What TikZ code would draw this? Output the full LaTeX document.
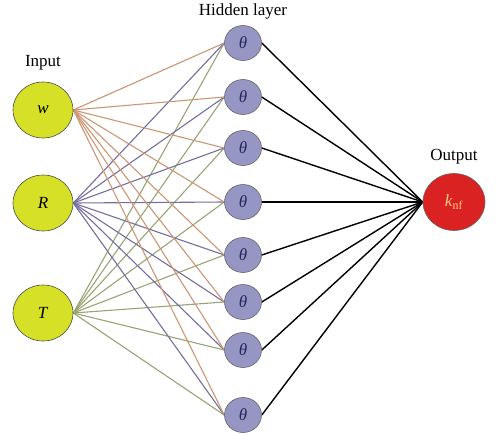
\documentclass[tikz,border=0pt]{standalone}
\usepackage{fontspec}
\setmainfont{Liberation Serif}
\usepackage{tikz}
\usetikzlibrary{shapes.geometric,backgrounds}
\definecolor{inyel}{RGB}{214,224,38}
\definecolor{hidfill}{RGB}{150,150,196}
\definecolor{outred}{RGB}{218,34,34}
\definecolor{outtxt}{RGB}{250,205,130}
\definecolor{thetac}{RGB}{40,40,90}
\definecolor{wline}{RGB}{205,150,115}
\definecolor{rline}{RGB}{115,110,158}
\definecolor{tline}{RGB}{150,165,115}
\tikzset{
  x=1pt,y=-1pt,
  bigtxt/.style={font=\fontsize{17}{20}\selectfont},
  innode/.style={ellipse,draw=black!70,line width=0.6pt,fill=inyel,minimum width=60pt,minimum height=56pt,inner sep=0pt,bigtxt},
  hidnode/.style={ellipse,draw=black!60,line width=0.6pt,fill=hidfill,minimum width=37pt,minimum height=35pt,inner sep=0pt,text=thetac,bigtxt},
  outnode/.style={ellipse,draw=black!60,line width=0.6pt,fill=outred,minimum width=62pt,minimum height=57pt,inner sep=0pt,text=outtxt,bigtxt},
  lbl/.style={bigtxt},
  wl/.style={draw=wline,line width=1.1pt},
  rl/.style={draw=rline,line width=1.1pt},
  tl/.style={draw=tline,line width=1.1pt},
  ol/.style={draw=black,line width=1.4pt},
}
\begin{document}
\begin{tikzpicture}
\useasboundingbox (0,0) rectangle (500,434);
\node[innode] (w) at (43,110) {\textit{w}};
\node[innode] (R) at (43,203) {\textit{R}};
\node[innode] (T) at (43,313) {\textit{T}};
\node[lbl] (inlbl) at (43,63) {Input};
\foreach \i/\y in {1/43,2/97,3/148,4/202,5/255,6/302,7/350,8/415}{
  \node[hidnode] (h\i) at (243,\y) {\textit{θ}};
}
\node[lbl] (hidlbl) at (243,11) {Hidden layer};
\node[outnode] (o) at (454,202) {\textit{k}\textsubscript{nf}};
\node[lbl] (outlbl) at (454,157) {Output};
\begin{pgfonlayer}{background}
\foreach \i in {1,...,8}{
  \draw[tl] (T.east) -- (h\i.west);
  \draw[rl] (R.east) -- (h\i.west);
  \draw[wl] (w.east) -- (h\i.west);
  \draw[ol] (h\i.east) -- (o.west);
}
\end{pgfonlayer}
\end{tikzpicture}
\end{document}
